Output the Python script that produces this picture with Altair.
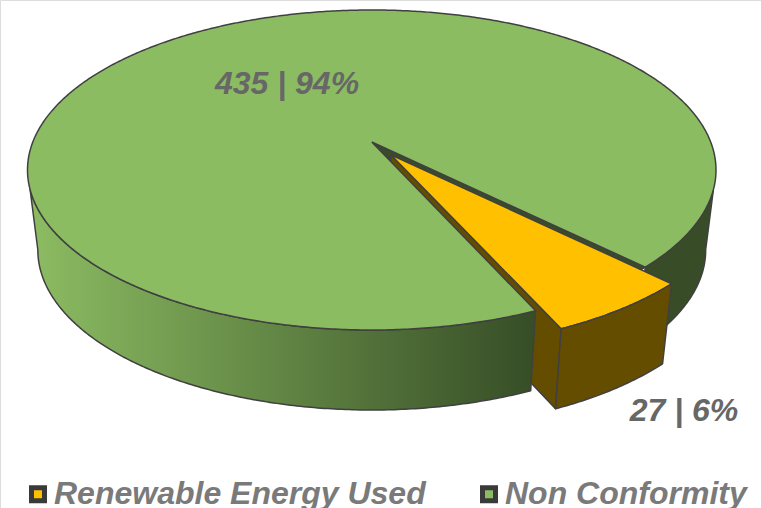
import numpy as np
import pandas as pd
import altair as alt

categories = ["Renewable Energy Used", "Non Conformity"]
counts = [27, 435]
slice_colors = ["#ffc000", "#8cbc62"]

# Tilted-disc geometry, in units of the top ellipse's half axes
TILT = 0.175
BASE_SCALE = 0.97
DEPTH = 0.5
START_DEG = 45.0
EXPLODE = 0.098
EDGE = "#404040"
DARK_GREEN = "#384d27"
BROWN = "#654d00"

total = sum(counts)
sweep = 360.0 * counts[0] / total
end_deg = START_DEG + sweep
mid = np.radians(START_DEG + sweep / 2)
shift = (EXPLODE * np.cos(mid), EXPLODE * np.sin(mid))


def project(u, v, base=False):
    """Perspective map of a point of the unit disc onto the tilted ellipse."""
    u, v = np.asarray(u, float), np.asarray(v, float)
    w = 1 - TILT * v
    x = u * np.sqrt(1 - TILT**2) / w
    y = (v - TILT) / w
    if base:
        return x * BASE_SCALE, y + DEPTH
    return x, y


def arc(a, b, base=False, offset=(0.0, 0.0)):
    n = max(2, int(abs(b - a)) * 2 + 1)
    t = np.radians(np.linspace(a, b, n))
    return project(np.cos(t) + offset[0], np.sin(t) + offset[1], base)


def point(base=False, offset=(0.0, 0.0)):
    x, y = project([offset[0]], [offset[1]], base)
    return x, y


def polygon(*parts, series=None):
    xs = np.concatenate([p[0] for p in parts])
    ys = np.concatenate([p[1] for p in parts])
    xs, ys = np.append(xs, xs[0]), np.append(ys, ys[0])
    df = pd.DataFrame({"x": xs, "y": ys, "i": np.arange(len(xs))})
    if series:
        df["series"] = series
    return df


x_scale = alt.Scale(domain=[-1, 1], range=[27.5, 716])
y_scale = alt.Scale(domain=[-1, 1], range=[10, 330])
fill_scale = alt.Scale(domain=categories, range=slice_colors)


def shape(df, fill=None):
    kw = {"fill": fill} if fill is not None else {}
    return (
        alt.Chart(df)
        .mark_line(stroke=EDGE, strokeWidth=1.5, strokeJoin="round", **kw)
        .encode(
            x=alt.X("x:Q", scale=x_scale, axis=None),
            y=alt.Y("y:Q", scale=y_scale, axis=None),
            order="i:Q",
        )
    )


def legend_shape(df):
    return shape(df).encode(
        fill=alt.Fill(
            "series:N",
            scale=fill_scale,
            legend=alt.Legend(
                title=None,
                orient="none",
                legendX=20,
                legendY=478,
                direction="horizontal",
                symbolType="square",
                symbolSize=169,
                symbolStrokeColor="#3a3a3a",
                symbolStrokeWidth=5,
                symbolOpacity=1,
                symbolOffset=2,
                labelFont="Liberation Sans",
                labelFontSize=32,
                labelFontStyle="italic",
                labelFontWeight="bold",
                labelColor="#7a7a7a",
                labelOffset=0,
                labelLimit=420,
                columnPadding=45,
                padding=0,
            ),
        )
    )


# Opening left in the green disc by the pulled-out slice
gap = shape(polygon(point(), arc(START_DEG, end_deg)), DARK_GREEN)

# Pulled-out slice: inner wall, then top and outer wall further down the stack
inner_wall = shape(
    polygon(
        point(offset=shift),
        arc(end_deg, end_deg, offset=shift),
        arc(end_deg, end_deg, base=True, offset=shift),
        point(base=True, offset=shift),
    ),
    BROWN,
)

# Outer wall of the green disc on either side of the opening
side_gradient = alt.Gradient(
    gradient="linear",
    x1=0, y1=0, x2=1, y2=0,
    stops=[
        alt.GradientStop(offset=0, color="#8cbc62"),
        alt.GradientStop(offset=1, color="#364d26"),
    ],
)
front_wall = shape(
    polygon(arc(end_deg, 163), arc(170, end_deg, base=True)), side_gradient
)
right_wall = shape(
    polygon(arc(17, START_DEG), arc(START_DEG, 10, base=True)), DARK_GREEN
)

green_top = legend_shape(
    polygon(point(), arc(end_deg, 360 + START_DEG), series=categories[1])
)
yellow_top = legend_shape(
    polygon(
        point(offset=shift),
        arc(START_DEG, end_deg, offset=shift),
        series=categories[0],
    )
)
outer_wall = shape(
    polygon(
        arc(START_DEG, end_deg, offset=shift),
        arc(end_deg, START_DEG, base=True, offset=shift),
    ),
    BROWN,
)

labels = pd.DataFrame(
    {
        "text": [f"{c} | {round(c / total * 100)}%" for c in counts],
        "px": [684, 287],
        "py": [411, 84],
    }
)
value_labels = (
    alt.Chart(labels)
    .mark_text(
        font="Liberation Sans",
        fontSize=32,
        fontStyle="italic",
        fontWeight="bold",
        color="#676767",
        align="center",
        baseline="middle",
    )
    .encode(
        x=alt.X("px:Q", scale=None, axis=None),
        y=alt.Y("py:Q", scale=None, axis=None),
        text="text:N",
    )
)

chart = (
    alt.layer(
        gap,
        inner_wall,
        front_wall,
        right_wall,
        green_top,
        yellow_top,
        outer_wall,
        value_labels,
    )
    .resolve_scale(x="independent", y="independent", fill="shared")
    .properties(width=761, height=508, padding=0, autosize=alt.AutoSizeParams(type="none"))
    .configure_view(stroke=None)
    .configure(background="white")
)

chart.save("out.html", embed_options={"renderer": "svg", "actions": False})
